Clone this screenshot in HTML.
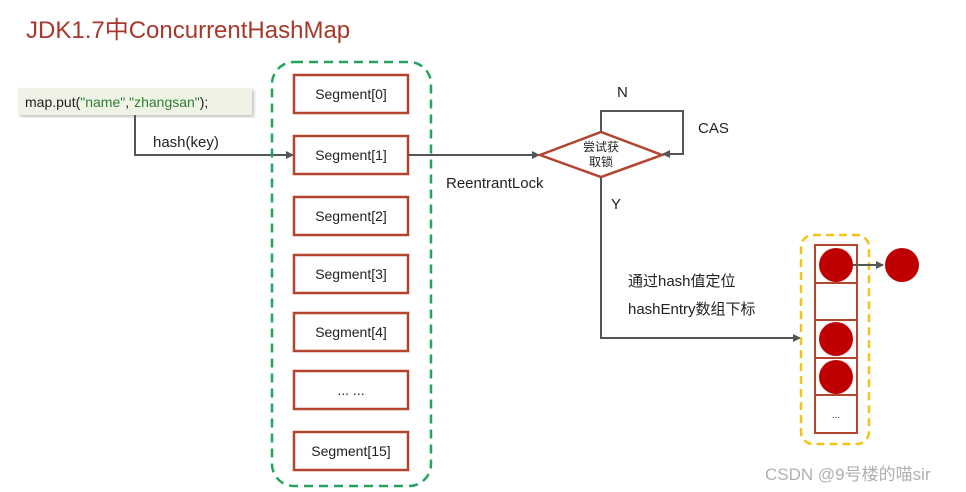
<!DOCTYPE html>
<html><head><meta charset="utf-8"><style>
body{margin:0;background:#fff;}
svg{display:block;font-family:"Liberation Sans","Noto Sans CJK SC",sans-serif;}
</style></head><body>
<svg width="966" height="492" viewBox="0 0 966 492">
<defs>
<marker id="a" markerWidth="8" markerHeight="8" refX="7" refY="4" orient="auto" markerUnits="userSpaceOnUse"><path d="M0,0 L8,4 L0,8 Z" fill="#555"/></marker>
<filter id="sh"><feDropShadow dx="2" dy="2" stdDeviation="1.5" flood-color="#999" flood-opacity="0.6"/></filter>
</defs>
<text x="26" y="38" font-size="24" fill="#a8382c">JDK1.7中ConcurrentHashMap</text>
<rect x="18" y="88" width="234" height="27" fill="#eef3e6" filter="url(#sh)"/>
<text x="25" y="107" font-size="14" fill="#222">map.put(<tspan fill="#2e7d32">"name"</tspan>,<tspan fill="#2e7d32">"zhangsan"</tspan>);</text>
<path d="M135,115 V155 H293" stroke="#555" stroke-width="2" fill="none" marker-end="url(#a)"/>
<text x="153" y="147" font-size="15" fill="#222">hash(key)</text>
<rect x="272" y="62" width="159" height="424" rx="22" fill="none" stroke="#22a55a" stroke-width="2.5" stroke-dasharray="9,6"/>
<g fill="#fff" stroke="#b5442f" stroke-width="2.5">
<rect x="294" y="75" width="114" height="38"/><rect x="294" y="136" width="114" height="38"/>
<rect x="294" y="197" width="114" height="38"/><rect x="294" y="255" width="114" height="38"/>
<rect x="294" y="313" width="114" height="38"/><rect x="294" y="371" width="114" height="38"/>
<rect x="294" y="432" width="114" height="38"/></g>
<g font-size="14" fill="#222" text-anchor="middle">
<text x="351" y="99">Segment[0]</text><text x="351" y="160">Segment[1]</text>
<text x="351" y="221">Segment[2]</text><text x="351" y="279">Segment[3]</text>
<text x="351" y="337">Segment[4]</text><text x="351" y="395">... ...</text>
<text x="351" y="456">Segment[15]</text></g>
<path d="M408,155 H539" stroke="#555" stroke-width="2" fill="none" marker-end="url(#a)"/>
<text x="446" y="188" font-size="15" fill="#222">ReentrantLock</text>
<polygon points="540,155 601,132 662,155 601,177" fill="#fff" stroke="#b5442f" stroke-width="2.5"/>
<text x="601" y="151" font-size="12" fill="#222" text-anchor="middle">尝试获</text>
<text x="601" y="166" font-size="12" fill="#222" text-anchor="middle">取锁</text>
<path d="M601,132 V111 H683 V154 H663" stroke="#555" stroke-width="2" fill="none" marker-end="url(#a)"/>
<text x="617" y="97" font-size="15" fill="#222">N</text>
<text x="698" y="133" font-size="15" fill="#222">CAS</text>
<path d="M601,177 V338 H800" stroke="#555" stroke-width="2" fill="none" marker-end="url(#a)"/>
<text x="611" y="209" font-size="15" fill="#222">Y</text>
<text x="628" y="286" font-size="15" fill="#222">通过hash值定位</text>
<text x="628" y="314" font-size="15" fill="#222">hashEntry数组下标</text>
<rect x="801" y="235" width="68" height="209" rx="12" fill="none" stroke="#f0c419" stroke-width="2.5" stroke-dasharray="8,5"/>
<g fill="#fff" stroke="#b5442f" stroke-width="2">
<rect x="815" y="245" width="42" height="38"/><rect x="815" y="283" width="42" height="37"/>
<rect x="815" y="320" width="42" height="38"/><rect x="815" y="358" width="42" height="37"/>
<rect x="815" y="395" width="42" height="38"/></g>
<g fill="#c00000"><circle cx="836" cy="265" r="17"/><circle cx="836" cy="339" r="17"/><circle cx="836" cy="377" r="17"/><circle cx="902" cy="265" r="17"/></g>
<path d="M853,265 H883" stroke="#555" stroke-width="2" fill="none" marker-end="url(#a)"/>
<text x="836" y="418" font-size="10" fill="#222" text-anchor="middle">...</text>
<text x="765" y="480" font-size="17" fill="#b0b0b0">CSDN @9号楼的喵sir</text>
</svg>
</body></html>
